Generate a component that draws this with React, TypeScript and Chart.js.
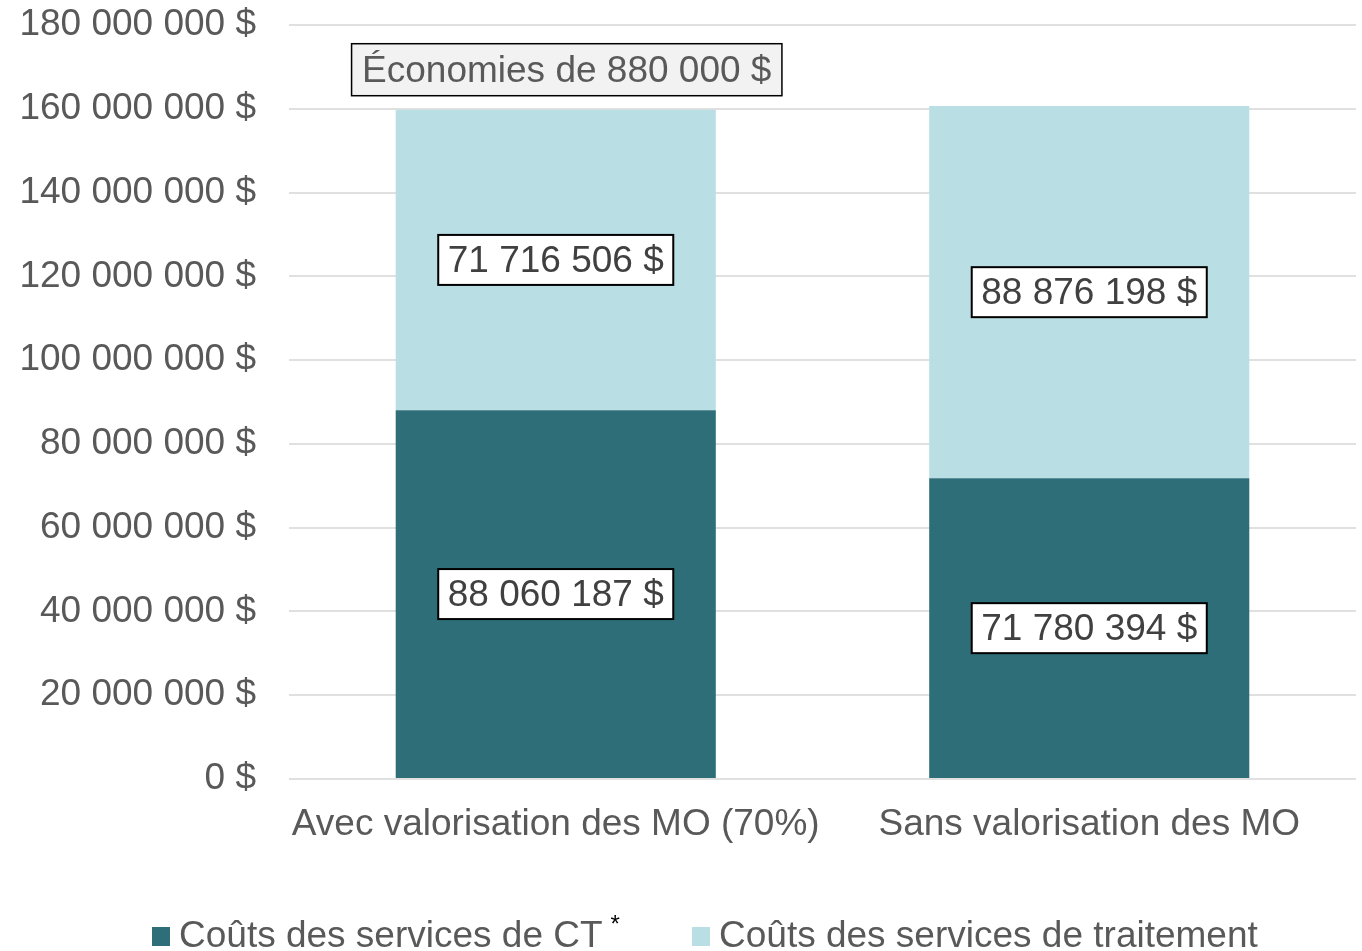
import React, { useEffect, useRef } from "react";
import { Chart, registerables } from "chart.js";

Chart.register(...registerables);

const categories = ["Avec valorisation des MO (70%)", "Sans valorisation des MO"];
const ctCosts = [88060187, 71780394];
const treatmentCosts = [71716506, 88876198];
const seriesNames = ["Coûts des services de CT", "Coûts des services de traitement"];
const savingsLabel = "Économies de 880 000 $";
const yMax = 180000000;
const yStep = 20000000;

const FONT = "'Liberation Sans', Arial, sans-serif";
const DARK = "#2D6E78";
const LIGHT = "#B9DFE5";
const TEXT = "#595959";

function fmt(v: number): string {
  const s = Math.round(v).toString();
  return s.replace(/\B(?=(\d{3})+(?!\d))/g, " ") + " $";
}

const labelPlugin = {
  id: "boxLabels",
  afterDatasetsDraw(chart: any) {
    const ctx = chart.ctx;
    ctx.save();
    ctx.font = `37px ${FONT}`;
    ctx.textAlign = "center";
    ctx.textBaseline = "middle";
    chart.data.datasets.forEach((ds: any, di: number) => {
      const meta = chart.getDatasetMeta(di);
      meta.data.forEach((bar: any, i: number) => {
        const text = fmt(ds.data[i]);
        const w = ctx.measureText(text).width + 19;
        const h = 50;
        const cx = bar.x;
        const cy = (bar.y + bar.base) / 2;
        ctx.fillStyle = "#ffffff";
        ctx.fillRect(cx - w / 2, cy - h / 2, w, h);
        ctx.lineWidth = 2;
        ctx.strokeStyle = "#000000";
        ctx.strokeRect(cx - w / 2, cy - h / 2, w, h);
        ctx.fillStyle = "#404040";
        ctx.fillText(text, cx, cy + 2);
      });
    });

    // savings annotation
    const y = chart.scales.y;
    const bar0 = chart.getDatasetMeta(0).data[0];
    const total0 = ctCosts[0] + treatmentCosts[0];
    const tw = ctx.measureText(savingsLabel).width + 21;
    const th = 52;
    const acx = bar0.x + 11;
    const acy = y.getPixelForValue(total0) - 40;
    ctx.fillStyle = "#F2F2F2";
    ctx.fillRect(acx - tw / 2, acy - th / 2, tw, th);
    ctx.lineWidth = 1.5;
    ctx.strokeStyle = "#000000";
    ctx.strokeRect(acx - tw / 2, acy - th / 2, tw, th);
    ctx.fillStyle = TEXT;
    ctx.fillText(savingsLabel, acx, acy + 2);

    // legend
    const legendY = 947;
    const items = [
      { x: 152, color: DARK, text: seriesNames[0], star: true },
      { x: 692, color: LIGHT, text: seriesNames[1], star: false },
    ];
    ctx.textAlign = "left";
    ctx.textBaseline = "alphabetic";
    items.forEach((it) => {
      ctx.fillStyle = it.color;
      ctx.fillRect(it.x, 927, 18, 19);
      ctx.fillStyle = TEXT;
      ctx.font = `37px ${FONT}`;
      ctx.fillText(it.text, it.x + 27, legendY);
      if (it.star) {
        const tw2 = ctx.measureText(it.text).width;
        ctx.fillStyle = "#000000";
        ctx.font = `24px ${FONT}`;
        ctx.fillText("*", it.x + 27 + tw2 + 8, 932);
      }
    });
    ctx.restore();
  },
};

export default function App() {
  const ref = useRef<HTMLCanvasElement | null>(null);
  useEffect(() => {
    document.body.style.margin = "0";
    const canvas = ref.current!;
    const chart = new Chart(canvas, {
      type: "bar",
      data: {
        labels: categories,
        datasets: [
          {
            label: seriesNames[0],
            data: ctCosts,
            backgroundColor: DARK,
            categoryPercentage: 1,
            barPercentage: 0.6,
          },
          {
            label: seriesNames[1],
            data: treatmentCosts,
            backgroundColor: LIGHT,
            categoryPercentage: 1,
            barPercentage: 0.6,
          },
        ],
      },
      options: {
        animation: false,
        responsive: false,
        layout: { padding: { top: 25, right: 6, bottom: 0, left: 0 } },
        plugins: {
          legend: { display: false },
          tooltip: { enabled: false },
        },
        scales: {
          x: {
            stacked: true,
            grid: { display: false, drawTicks: false },
            border: { display: false },
            ticks: {
              color: TEXT,
              font: { family: FONT, size: 37 },
              padding: 24,
              maxRotation: 0,
            },
            afterFit: (s: any) => {
              s.height = 172;
              s.paddingLeft = 0;
              s.paddingRight = 0;
            },
          },
          y: {
            stacked: true,
            min: 0,
            max: yMax,
            grid: { color: "#E0E0E0", lineWidth: 2, drawTicks: false },
            border: { display: false },
            ticks: {
              stepSize: yStep,
              color: TEXT,
              font: { family: FONT, size: 37 },
              padding: 33,
              callback: (v: any) => fmt(Number(v)),
            },
            afterFit: (s: any) => {
              s.width = 289;
              s.paddingTop = 0;
              s.paddingBottom = 0;
            },
          },
        },
      },
      plugins: [labelPlugin],
    });
    return () => chart.destroy();
  }, []);
  return <canvas ref={ref} width={1362} height={951} style={{ display: "block" }} />;
}
